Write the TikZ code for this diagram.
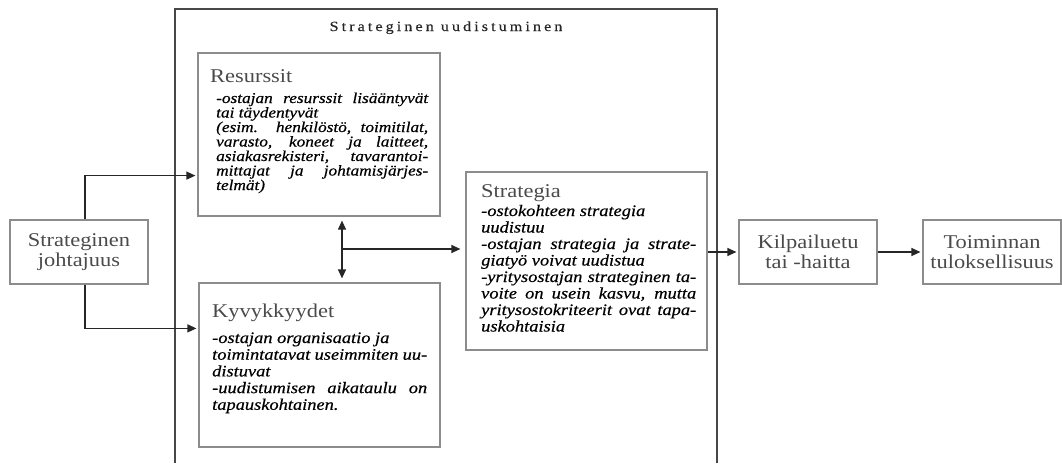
\documentclass[tikz,border=0pt]{standalone}
\usepackage{fontspec}
\setmainfont{Liberation Serif}[FakeStretch=1.15]
\usetikzlibrary{arrows.meta}
\definecolor{boxgray}{HTML}{8C8C8C}
\definecolor{headgray}{HTML}{4A4A4A}
\definecolor{linedark}{HTML}{262626}
\newcommand{\headfont}{\fontsize{19.5}{20.5}\selectfont\color{headgray}}
\newcommand{\bodyfont}[2]{\fontsize{#1}{#2}\selectfont\itshape\addfontfeature{FakeBold=0.5}\hyphenpenalty=10000\exhyphenpenalty=10000}
\tikzset{
  blok/.style={draw=boxgray, line width=1.2pt, inner sep=0pt},
  teksti/.style={inner sep=0pt, anchor=base west},
  nuoli/.style={draw=linedark, line width=1.2pt, -{Triangle[length=9pt,width=8pt]}, shorten >=2pt},
}
\begin{document}
\begin{tikzpicture}[x=1pt,y=-1pt]
\useasboundingbox (0,0) rectangle (1062,463);
\draw[line width=1.4pt, draw=linedark!85] (175,463) -- (175,9) -- (717,9) -- (717,463);
\node[anchor=base, text=linedark, font=\fontsize{14}{16}\selectfont\addfontfeature{LetterSpace=22,FakeBold=0.3}] (otsikko) at (446,31) {Strateginen uudistuminen};
\node[blok, minimum width=138pt, minimum height=64pt, align=center, font=\headfont] (johtajuus) at (79,252) {Strateginen\\johtajuus};
\node[blok, minimum width=242pt, minimum height=163pt] (resurssit) at (319,134.5) {};
\node[teksti, font=\headfont] (resurssit-otsikko) at (210,82) {Resurssit};
\node[teksti] (resurssit-teksti) at (216,103) {\parbox[t]{212pt}{\bodyfont{15}{14.5}%
-ostajan resurssit lisääntyvät\linebreak tai täydentyvät\par
(esim. henkilöstö, toimitilat,\linebreak varasto, koneet ja laitteet,\linebreak asiakasrekisteri, tavarantoi-\linebreak mittajat ja johtamisjärjes-\linebreak telmät)}};
\node[blok, minimum width=241pt, minimum height=164pt] (kyvykkyydet) at (319.5,365) {};
\node[teksti, font=\headfont] (kyvykkyydet-otsikko) at (212,317) {Kyvykkyydet};
\node[teksti] (kyvykkyydet-teksti) at (212,343) {\parbox[t]{215pt}{\bodyfont{16}{16.7}%
-ostajan organisaatio ja\newline toimintatavat useimmiten uu-\linebreak distuvat\par
-uudistumisen aikataulu on\linebreak tapauskohtainen.}};
\node[blok, minimum width=241pt, minimum height=178pt] (strategia) at (586.5,261) {};
\node[teksti, font=\headfont] (strategia-otsikko) at (481,197) {Strategia};
\node[teksti] (strategia-teksti) at (481,216) {\parbox[t]{215pt}{\bodyfont{16}{16.5}%
-ostokohteen strategia\newline uudistuu\par
-ostajan strategia ja strate-\linebreak giatyö voivat uudistua\par
-yritysostajan strateginen ta-\linebreak voite on usein kasvu, mutta\linebreak yritysostokriteerit ovat tapa-\linebreak uskohtaisia}};
\node[blok, minimum width=138pt, minimum height=64pt, align=center, font=\headfont] (kilpailuetu) at (808,252) {Kilpailuetu\\tai -haitta};
\node[blok, minimum width=138pt, minimum height=64pt, align=center, font=\headfont] (toiminnan) at (992,252) {Toiminnan\\tuloksellisuus};
\coordinate (risteys) at (342,249);
\draw[nuoli] ([xshift=6pt]johtajuus.north) |- ([yshift=41pt]resurssit.south west);
\draw[nuoli] ([xshift=6pt]johtajuus.south) |- ([yshift=-46pt]kyvykkyydet.north west);
\draw[nuoli, {Triangle[length=9pt,width=8pt]}-{Triangle[length=9pt,width=8pt]}, shorten <=4pt, shorten >=4pt] (resurssit.south -| risteys) -- (kyvykkyydet.north -| risteys);
\draw[nuoli, shorten >=5pt] (risteys) -- (risteys -| strategia.west);
\draw[nuoli] (kilpailuetu.west -| strategia.east) -- (kilpailuetu.west);
\draw[nuoli] (kilpailuetu.east) -- (toiminnan.west);
\end{tikzpicture}
\end{document}
